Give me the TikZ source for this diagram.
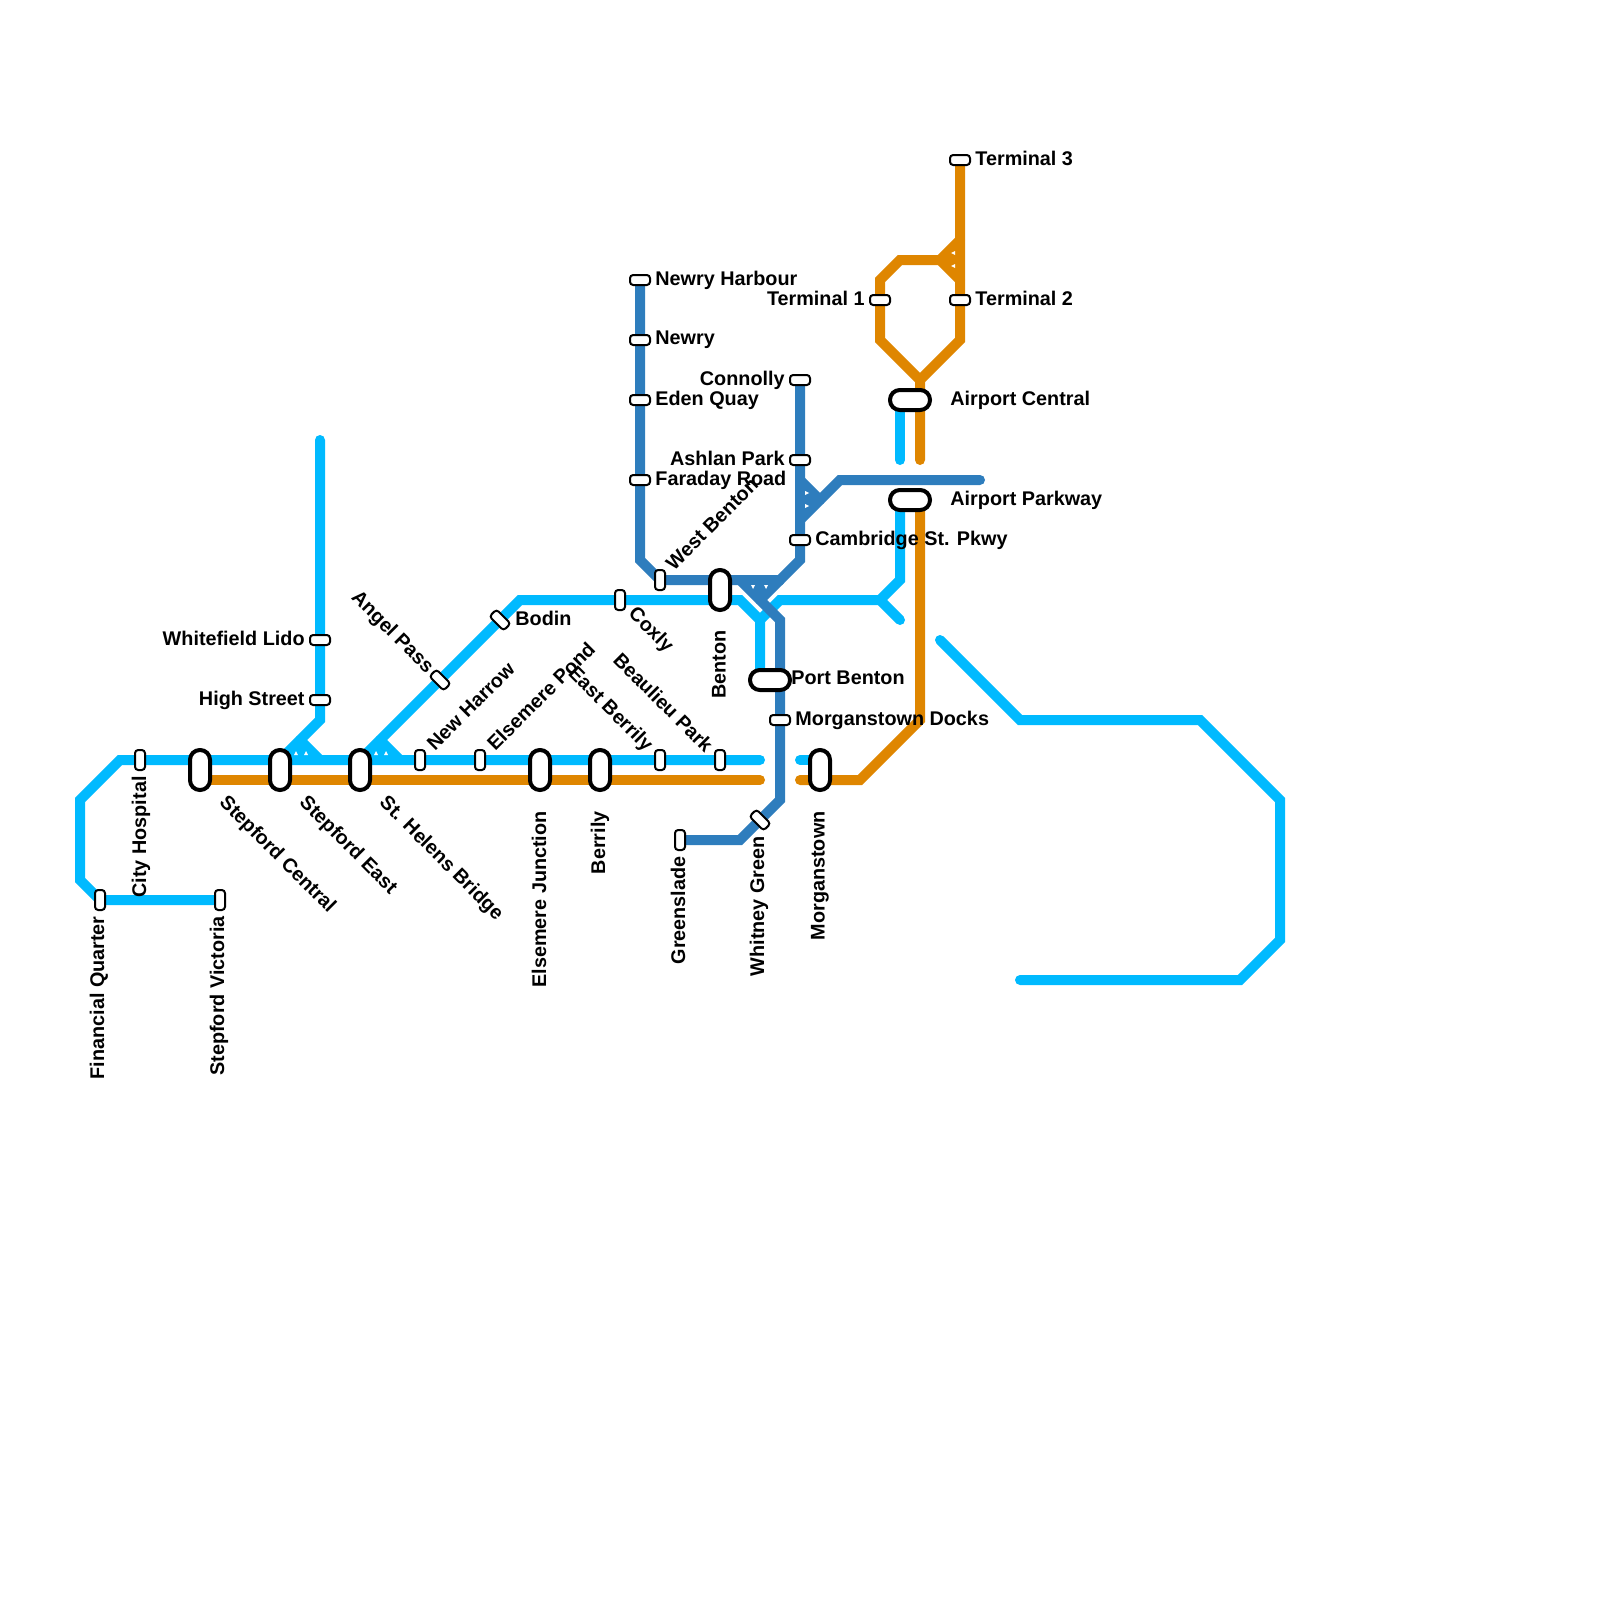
\documentclass[tikz,border=0pt]{standalone}
\usepackage{fontspec}
\setmainfont{Liberation Sans}
\usetikzlibrary{backgrounds}
\definecolor{skyline}{HTML}{00BAFF}
\definecolor{steelline}{HTML}{2E7DBD}
\definecolor{amberline}{HTML}{DF8600}
\newcommand{\lbl}{\fontsize{9.9}{11}\selectfont\bfseries}
\tikzset{
  stn/.style={draw=black,fill=white,line width=1pt,inner sep=0,outer sep=0,minimum width=5pt,minimum height=10pt,rounded corners=1.6pt},
  flatstn/.style={stn,minimum width=10pt,minimum height=5pt},
  pill/.style={draw=black,fill=white,line width=2pt,inner sep=0,outer sep=0,minimum width=10pt,minimum height=20pt,rounded corners=4.9pt},
  flatpill/.style={pill,minimum width=20pt,minimum height=10pt},
  tag/.style={inner sep=0,font=\lbl},
  metro/.style={line width=5pt,line cap=round,line join=miter}
}
\begin{document}
\begin{tikzpicture}[x=0.5pt,y=-0.5pt,font=\lbl]
\useasboundingbox (0,0) rectangle (1600,1600);
% stations
\node[stn] (finquarter) at (100,900) {};
\node[stn] (stepvictoria) at (220,900) {};
\node[stn] (cityhosp) at (140,760) {};
\node[pill] (stepcentral) at (200,770) {};
\node[pill] (stepeast) at (280,770) {};
\node[pill] (sthelens) at (360,770) {};
\node[flatstn] (whitefield) at (320,640) {};
\node[flatstn] (highst) at (320,700) {};
\node[stn] (newharrow) at (420,760) {};
\node[stn] (elsepond) at (480,760) {};
\node[pill] (elsejunc) at (540,770) {};
\node[pill] (berrily) at (600,770) {};
\node[stn] (eastberrily) at (660,760) {};
\node[stn] (beaulieu) at (720,760) {};
\node[flatstn,rotate=-45] (angelpass) at (440,680) {};
\node[flatstn,rotate=-45] (bodin) at (500,620) {};
\node[stn] (coxly) at (620,600) {};
\node[stn] (westbenton) at (660,580) {};
\node[pill] (benton) at (720,590) {};
\node[flatstn] (newryharb) at (640,280) {};
\node[flatstn] (newry) at (640,340) {};
\node[flatstn] (edenquay) at (640,400) {};
\node[flatstn] (faraday) at (640,480) {};
\node[flatstn] (connolly) at (800,380) {};
\node[flatstn] (ashlan) at (800,460) {};
\node[flatstn] (cambridge) at (800,540) {};
\node[flatpill] (portbenton) at (770,680) {};
\node[flatstn] (mgdocks) at (780,720) {};
\node[flatstn,rotate=-45] (whitney) at (760,820) {};
\node[stn] (greenslade) at (680,840) {};
\node[pill] (morganstown) at (820,770) {};
\node[flatstn] (terminalone) at (880,300) {};
\node[flatstn] (terminaltwo) at (960,300) {};
\node[flatstn] (terminalthree) at (960,160) {};
\node[flatpill] (aircentral) at (910,400) {};
\node[flatpill] (airparkway) at (910,500) {};
% labels
\node[tag,anchor=east,rotate=90] (finquarterl) at (99,916) {Financial Quarter};
\node[tag,anchor=east,rotate=90] (stepvictorial) at (219,916) {Stepford Victoria};
\node[tag,anchor=east,rotate=90] (cityhospl) at (141,776) {City Hospital};
\node[tag,anchor=west,rotate=-45] (stepcentrall) at (222,800) {Stepford Central};
\node[tag,anchor=west,rotate=-45] (stepeastl) at (302,800) {Stepford East};
\node[tag,anchor=west,rotate=-45] (sthelensl) at (382,800) {St. Helens Bridge};
\node[tag,anchor=east] (whitefieldl) at (305,638) {Whitefield Lido};
\node[tag,anchor=east] (highstl) at (305,700) {High Street};
\node[tag,anchor=west,rotate=45] (newharrowl) at (430,747) {New Harrow};
\node[tag,anchor=west,rotate=45] (elsepondl) at (490,747) {Elsemere Pond};
\node[tag,anchor=east,rotate=90] (elsejuncl) at (539,811) {Elsemere Junction};
\node[tag,anchor=east,rotate=90] (berrilyl) at (600,811) {Berrily};
\node[tag,anchor=east,rotate=-45] (eastberrilyl) at (649,749) {East Berrily};
\node[tag,anchor=east,rotate=-45] (beaulieul) at (710,749) {Beaulieu Park};
\node[tag,anchor=east,rotate=-45] (angelpassl) at (430,671) {Angel Pass};
\node[tag,anchor=west] (bodinl) at (515,618) {Bodin};
\node[tag,anchor=west,rotate=-45] (coxlyl) at (631,611) {Coxly};
\node[tag,anchor=west,rotate=45] (westbentonl) at (669,567) {West Benton};
\node[tag,anchor=east,rotate=90] (bentonl) at (719,630) {Benton};
\node[tag,anchor=west] (newryharbl) at (655,280) {Newry Harbour};
\node[tag,anchor=west] (newryl) at (655,340) {Newry};
\node[tag,anchor=west] (edenquayl) at (655,400) {Eden Quay};
\node[tag,anchor=west] (faradayl) at (655,480) {Faraday Road};
\node[tag,anchor=east] (connollyl) at (785,380) {Connolly};
\node[tag,anchor=east] (ashlanl) at (785,458) {Ashlan Park};
\node[tag,anchor=west] (cambridgel) at (815,540) {Cambridge St. Pkwy};
\node[tag,anchor=west] (portbentonl) at (791,678) {Port Benton};
\node[tag,anchor=west] (mgdocksl) at (795,720) {Morganstown Docks};
\node[tag,anchor=east,rotate=90] (whitneyl) at (759,836) {Whitney Green};
\node[tag,anchor=east,rotate=90] (greensladel) at (678,856) {Greenslade};
\node[tag,anchor=east,rotate=90] (morganstownl) at (820,811) {Morganstown};
\node[tag,anchor=east] (terminalonel) at (865,298) {Terminal 1};
\node[tag,anchor=west] (terminaltwol) at (975,298) {Terminal 2};
\node[tag,anchor=west] (terminalthreel) at (975,158) {Terminal 3};
\node[tag,anchor=west] (aircentrall) at (950,400) {Airport Central};
\node[tag,anchor=west] (airparkwayl) at (950,500) {Airport Parkway};
% lines
\begin{scope}[on background layer]
\draw[metro,skyline] (stepvictoria.center) -- (finquarter.center) -- (80,880) -- (80,800) -- (120,760) -- (760,760);
\draw[metro,skyline] (320,440) -- (whitefield.center) -- (highst.center) -- (320,720) -- (280,760);
\draw[metro,skyline] (300,740) -- (320,760);
\fill[skyline] (285,757) -- (300,740) -- (315,757) -- cycle;
\draw[metro,skyline] (360,760) -- (bodin.center) -- (520,600) -- (740,600) -- (760,620) -- (760,680);
\draw[metro,skyline] (380,740) -- (400,760);
\fill[skyline] (365,757) -- (380,740) -- (395,757) -- cycle;
\draw[metro,skyline] (760,620) -- (780,600) -- (880,600) -- (900,580) -- (900,500);
\draw[metro,skyline] (880,600) -- (900,620);
\draw[metro,skyline] (900,400) -- (900,460);
\draw[metro,skyline] (800,760) -- (820,760);
\draw[metro,skyline] (940,640) -- (1020,720) -- (1200,720) -- (1280,800) -- (1280,940) -- (1240,980) -- (1020,980);
\fill[white] (294,755) -- (296,751) -- (298,755) -- cycle;
\fill[white] (304,755) -- (306,751) -- (308,755) -- cycle;
\fill[white] (374,755) -- (376,751) -- (378,755) -- cycle;
\fill[white] (384,755) -- (386,751) -- (388,755) -- cycle;
\draw[metro,amberline] (200,780) -- (760,780);
\draw[metro,amberline] (800,780) -- (860,780) -- (920,720) -- (920,500);
\draw[metro,amberline] (920,460) -- (920,380) -- (960,340) -- (terminaltwo.center) -- (terminalthree.center);
\draw[metro,amberline] (920,380) -- (880,340) -- (terminalone.center) -- (880,280) -- (900,260) -- (940,260) -- (960,240);
\draw[metro,amberline] (940,260) -- (960,280);
\fill[amberline] (940,260) -- (960,240) -- (960,280) -- cycle;
\fill[white] (955,251) -- (951,253) -- (955,255) -- cycle;
\fill[white] (955,264) -- (951,266) -- (955,268) -- cycle;
\draw[metro,steelline] (newryharb.center) -- (faraday.center) -- (640,560) -- (westbenton.center) -- (780,580) -- (800,560) -- (connolly.center);
\draw[metro,steelline] (800,480) -- (820,500);
\draw[metro,steelline] (800,520) -- (840,480) -- (980,480);
\fill[steelline] (800,485) -- (800,515) -- (818,500) -- cycle;
\fill[white] (805,491) -- (809,493) -- (805,495) -- cycle;
\fill[white] (805,504) -- (809,506) -- (805,508) -- cycle;
\draw[metro,steelline] (780,580) -- (760,600);
\draw[metro,steelline] (740,580) -- (780,620) -- (mgdocks.center) -- (780,800) -- (whitney.center) -- (740,840) -- (greenslade.center);
\fill[steelline] (745,580) -- (775,580) -- (760,598) -- cycle;
\fill[white] (751,585) -- (753,589) -- (755,585) -- cycle;
\fill[white] (764,585) -- (766,589) -- (768,585) -- cycle;
\end{scope}
\end{tikzpicture}
\end{document}
